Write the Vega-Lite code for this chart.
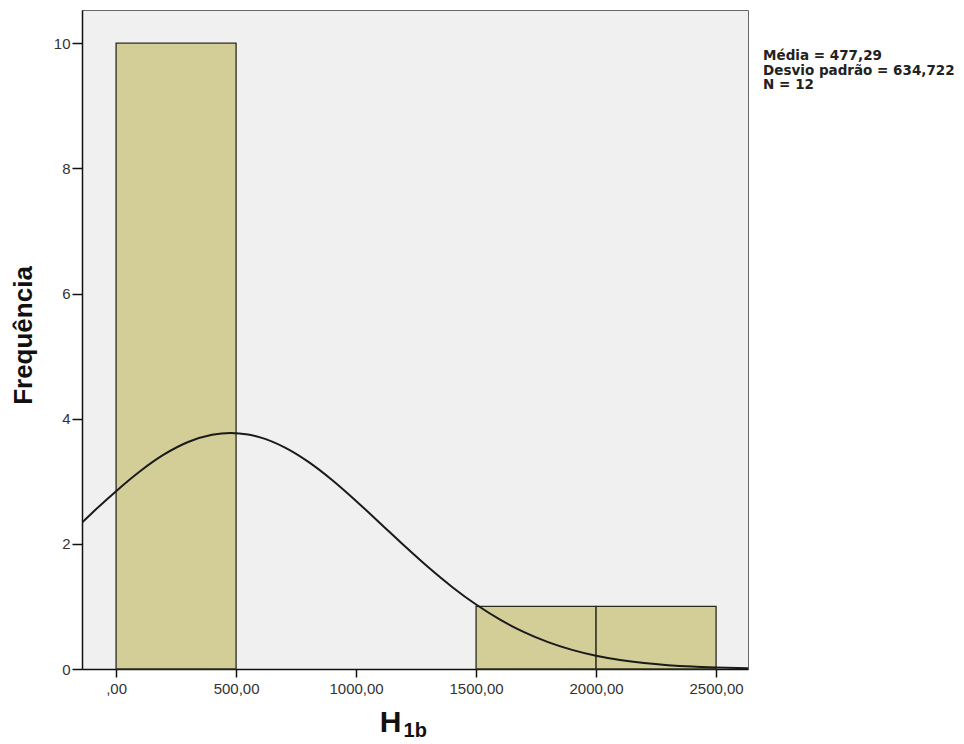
{
  "$schema": "https://vega.github.io/schema/vega-lite/v6.json",
  "autosize": "none",
  "width": 666,
  "height": 659,
  "padding": {"left": 82, "top": 10, "right": 216, "bottom": 75},
  "background": "white",
  "config": {
    "view": {"fill": "#F0F0F0", "stroke": "#666666", "strokeWidth": 1},
    "font": "Liberation Sans",
    "axis": {"labelFont": "Liberation Sans", "titleFont": "Liberation Sans"}
  },
  "datasets": {
    "bins": [
      {"bin_start": 0, "bin_end": 500, "frequency": 10},
      {"bin_start": 1500, "bin_end": 2000, "frequency": 1},
      {"bin_start": 2000, "bin_end": 2500, "frequency": 1}
    ],
    "curve": [
      {"h1b": -142, "density": 2.34},
      {"h1b": -100, "density": 2.494},
      {"h1b": 0, "density": 2.842},
      {"h1b": 100, "density": 3.16},
      {"h1b": 200, "density": 3.428},
      {"h1b": 300, "density": 3.627},
      {"h1b": 400, "density": 3.743},
      {"h1b": 477, "density": 3.771},
      {"h1b": 550, "density": 3.746},
      {"h1b": 600, "density": 3.701},
      {"h1b": 700, "density": 3.546},
      {"h1b": 800, "density": 3.314},
      {"h1b": 900, "density": 3.021},
      {"h1b": 1000, "density": 2.686},
      {"h1b": 1100, "density": 2.33},
      {"h1b": 1200, "density": 1.972},
      {"h1b": 1300, "density": 1.628},
      {"h1b": 1400, "density": 1.311},
      {"h1b": 1500, "density": 1.03},
      {"h1b": 1600, "density": 0.789},
      {"h1b": 1700, "density": 0.59},
      {"h1b": 1800, "density": 0.43},
      {"h1b": 1900, "density": 0.306},
      {"h1b": 2000, "density": 0.212},
      {"h1b": 2100, "density": 0.144},
      {"h1b": 2200, "density": 0.095},
      {"h1b": 2300, "density": 0.061},
      {"h1b": 2400, "density": 0.038},
      {"h1b": 2500, "density": 0.024},
      {"h1b": 2633, "density": 0.012}
    ],
    "stats": [
      {"label": "Média = 477,29\nDesvio padrão = 634,722\nN = 12"}
    ],
    "sub": [{"label": "1b"}]
  },
  "layer": [
    {
      "data": {"name": "bins"},
      "mark": {"type": "bar", "fill": "#D3CE97", "stroke": "#2A2A1E", "strokeWidth": 1.3},
      "encoding": {
        "x": {
          "field": "bin_start", "type": "quantitative",
          "scale": {"domain": [-142, 2633], "nice": false, "zero": false},
          "axis": {
            "values": [0, 500, 1000, 1500, 2000, 2500],
            "labelExpr": "datum.value == 0 ? ',00' : replace(format(datum.value, '.2f'), '.', ',')",
            "grid": false,
            "domainColor": "#111111",
            "domainWidth": 1.5,
            "tickColor": "#111111",
            "tickWidth": 1.5,
            "tickSize": 8,
            "labelFontSize": 15,
            "labelColor": "#333333",
            "labelPadding": 4,
            "title": "H",
            "titleFontSize": 30,
            "titleFontWeight": "bold",
            "titleColor": "#111111",
            "titleX": 308,
            "titleY": 62,
            "titleAlign": "center",
            "titleBaseline": "alphabetic"
          }
        },
        "x2": {"field": "bin_end"},
        "y": {
          "field": "frequency", "type": "quantitative",
          "scale": {"domain": [0, 10.53], "nice": false},
          "axis": {
            "values": [0, 2, 4, 6, 8, 10],
            "format": "d",
            "grid": false,
            "domainColor": "#111111",
            "domainWidth": 1.5,
            "tickColor": "#111111",
            "tickWidth": 1.5,
            "tickSize": 10,
            "labelFontSize": 15,
            "labelColor": "#333333",
            "labelPadding": 2,
            "title": "Frequência",
            "titleFontSize": 26,
            "titleFontWeight": "bold",
            "titleColor": "#111111",
            "titleX": -59,
            "titleY": 325,
            "titleAlign": "center",
            "titleBaseline": "middle",
            "titleAngle": -90
          }
        },
        "y2": {"datum": 0}
      }
    },
    {
      "data": {"name": "curve"},
      "mark": {"type": "line", "color": "#1A1A1A", "strokeWidth": 2, "interpolate": "monotone", "clip": true},
      "encoding": {
        "x": {"field": "h1b", "type": "quantitative"},
        "y": {"field": "density", "type": "quantitative"}
      }
    },
    {
      "data": {"name": "stats"},
      "mark": {"type": "text", "align": "left", "baseline": "top", "font": "DejaVu Sans", "fontSize": 13.5, "fontWeight": "bold", "color": "#222222", "lineBreak": "\n", "lineHeight": 14.5},
      "encoding": {
        "text": {"field": "label"},
        "x": {"datum": 2696},
        "y": {"datum": 9.9}
      }
    },
    {
      "data": {"name": "sub"},
      "mark": {"type": "text", "align": "left", "baseline": "alphabetic", "fontSize": 20, "fontWeight": "bold", "color": "#111111"},
      "encoding": {
        "text": {"field": "label"},
        "x": {"datum": 1198},
        "y": {"datum": -1.09}
      }
    }
  ]
}
